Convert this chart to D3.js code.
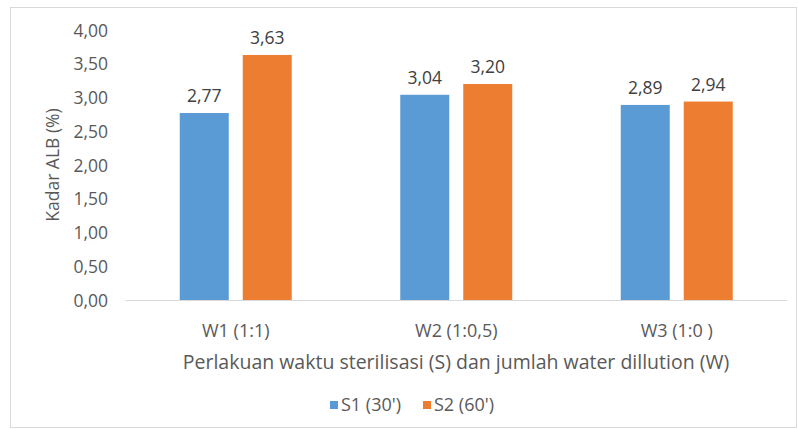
<!DOCTYPE html>
<html>
<head>
<meta charset="utf-8">
<script src="https://cdn.jsdelivr.net/npm/d3@7"></script>
<style>
  body { margin: 0; background: #fff; }
  text { font-family: "Open Sans", sans-serif; }
</style>
</head>
<body>
<div id="chart"></div>
<script>
var categories = ['W1 (1:1)', 'W2 (1:0,5)', 'W3 (1:0 )'];
var seriesNames = ["S1 (30')", "S2 (60')"];
var s1Values = [2.77, 3.04, 2.89];
var s2Values = [3.63, 3.20, 2.94];
var yTicks = [0, 0.5, 1, 1.5, 2, 2.5, 3, 3.5, 4];

var width = 798, height = 429;
var colors = ['#5B9BD5', '#ED7D31'];
var fmt = function(v) { return d3.format('.2f')(v).replace('.', ','); };

var svg = d3.select('#chart').append('svg').attr('width', width).attr('height', height);

// outer chart border
svg.append('rect').attr('x', 10.5).attr('y', 7.5).attr('width', 786).attr('height', 420)
  .attr('fill', '#fff').attr('stroke', '#D9D9D9');

var plotLeft = 125.5, plotRight = 787, plotTop = 30, plotBottom = 300;

var x = d3.scaleBand().domain(categories).range([plotLeft, plotRight]);
var y = d3.scaleLinear().domain([0, 4]).range([plotBottom, plotTop]);

var data = categories.map(function(c, i) {
  return { cat: c, vals: [s1Values[i], s2Values[i]] };
});

// y tick labels
svg.append('g').selectAll('text').data(yTicks).enter().append('text')
  .attr('x', 108).attr('y', function(d) { return y(d) + 6.5; })
  .attr('text-anchor', 'end').attr('font-size', 17.5).attr('fill', '#595959')
  .text(fmt);

// baseline
svg.append('line').attr('x1', plotLeft).attr('x2', plotRight)
  .attr('y1', plotBottom + 0.5).attr('y2', plotBottom + 0.5)
  .attr('stroke', '#D9D9D9');

var barW = 49, gap = 14;
var groups = svg.append('g').selectAll('g').data(data).enter().append('g')
  .attr('transform', function(d) { return 'translate(' + (x(d.cat) + x.bandwidth() / 2) + ',0)'; });

groups.selectAll('rect').data(function(d) { return d.vals; }).enter().append('rect')
  .attr('x', function(d, i) { return i === 0 ? -gap / 2 - barW : gap / 2; })
  .attr('width', barW)
  .attr('y', function(d) { return y(d); })
  .attr('height', function(d) { return plotBottom - y(d); })
  .attr('fill', function(d, i) { return colors[i]; });

groups.selectAll('text.lbl').data(function(d) { return d.vals; }).enter().append('text')
  .attr('class', 'lbl')
  .attr('x', function(d, i) { return i === 0 ? -gap / 2 - barW / 2 : gap / 2 + barW / 2; })
  .attr('y', function(d) { return y(d) - 11; })
  .attr('text-anchor', 'middle').attr('font-size', 17.5).attr('fill', '#404040')
  .text(fmt);

// category labels
svg.append('g').selectAll('text').data(categories).enter().append('text')
  .attr('x', function(d) { return x(d) + x.bandwidth() / 2; })
  .attr('y', 337).attr('text-anchor', 'middle').attr('font-size', 18).attr('fill', '#595959')
  .text(function(d) { return d; });

// axis titles
svg.append('text').attr('x', 456).attr('y', 369).attr('text-anchor', 'middle')
  .attr('font-size', 19.5).attr('fill', '#595959')
  .text('Perlakuan waktu sterilisasi (S) dan jumlah water dillution (W)');

svg.append('text').attr('transform', 'translate(59,165) rotate(-90)').attr('text-anchor', 'middle')
  .attr('font-size', 17.5).attr('fill', '#595959').text('Kadar ALB (%)');

// legend
var legend = svg.append('g').selectAll('g').data(seriesNames).enter().append('g')
  .attr('transform', function(d, i) { return 'translate(' + (330 + i * 93) + ',401)'; });
legend.append('rect').attr('width', 8).attr('height', 8).attr('fill', function(d, i) { return colors[i]; });
legend.append('text').attr('x', 11).attr('y', 10).attr('font-size', 18).attr('fill', '#595959')
  .text(function(d) { return d; });
</script>
</body>
</html>
